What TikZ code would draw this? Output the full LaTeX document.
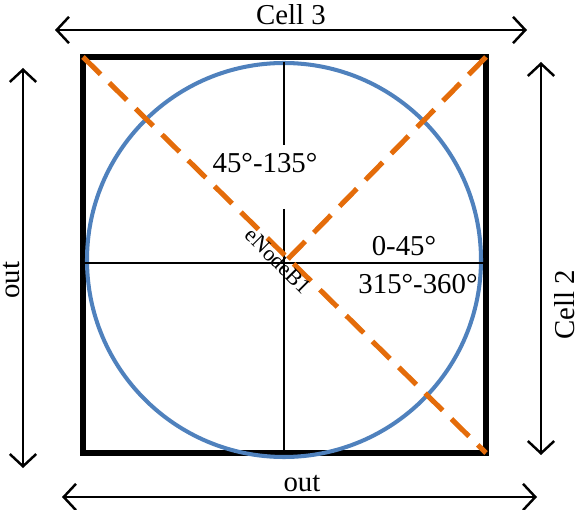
\documentclass[tikz,border=0pt]{standalone}
\usepackage{fontspec}
\setmainfont{Liberation Serif}
\usepackage{tikz}
\usetikzlibrary{arrows.meta, positioning, calc}
\usepackage{xcolor}
\definecolor{cellblue}{RGB}{79,129,189}
\definecolor{beamorange}{RGB}{228,108,10}

\begin{document}
\begin{tikzpicture}[
        x=0.02cm, y=-0.02cm,
        dimline/.style={{Straight Barb[length=7pt, width=15pt]}-{Straight Barb[length=7pt, width=15pt]}, line width=1.4pt},
        lbl/.style={font=\fontsize{16.4}{19}\selectfont, inner sep=1pt},
        beam/.style={beamorange, line width=2.9pt, dash pattern=on 14pt off 7pt},
        axis/.style={line width=1.1pt}
    ]
        \useasboundingbox (0,0) rectangle (579,510);
        \coordinate (nw) at (83,57);
        \coordinate (ne) at (486,57);
        \coordinate (se) at (486,453);
        \coordinate (o) at (284,263);
        % cell boundary and coverage circle
        \draw[line width=3.1pt] (nw) rectangle (se);
        \draw[cellblue, line width=2.3pt] (284,260) circle [radius=197];
        % sector axes
        \draw[axis] (83,263) -- (486,263);
        \draw[axis] (284,62) -- (284,145);
        \draw[axis] (284,209) -- (284,453);
        \node[lbl] (sec1) at (265,163) {45°-135°};
        \node[lbl] (sec0) at (404,246) {0-45°};
        \node[lbl] (sec4) at (418,284) {315°-360°};
        % beams
        \draw[beam] (nw) -- (se);
        \draw[beam] (ne) -- (o);
        \node[font=\fontsize{12.5}{15}\selectfont, rotate=-45, inner sep=0pt] (enb) at (278,261) {eNodeB1};
        % dimensions
        \draw[dimline] (55,30) -- (527,30);
        \node[lbl] (cell3) at (291,15) {Cell 3};
        \draw[dimline] (62,497) -- (537,497);
        \node[lbl] (outb) at (302,484) {out};
        \draw[dimline] (23,68) -- (23,468);
        \node[lbl, rotate=90] (outl) at (12,280) {out};
        \draw[dimline] (541,62) -- (541,455);
        \node[lbl, rotate=90] (cell2) at (565,305) {Cell 2};
    \end{tikzpicture}
\end{document}
